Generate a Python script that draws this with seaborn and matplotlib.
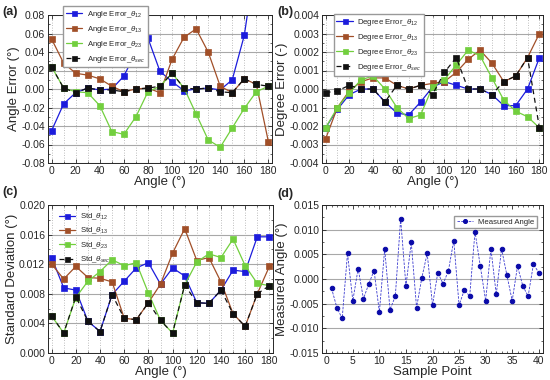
import numpy as np
import seaborn as sns
import matplotlib.pyplot as plt
from matplotlib.ticker import MultipleLocator

angles = list(range(0, 181, 10))

# (a) angle error (deg)
err_a12 = [-0.045, -0.016, -0.004, 0.001, -0.001, 0.000, 0.014, 0.040, 0.055, 0.019,
           0.008, -0.002, 0.000, 0.001, -0.001, 0.010, 0.058, 0.146, 0.200]
err_a13 = [0.054, 0.028, 0.017, 0.015, 0.011, 0.003, -0.003, 0.000, 0.001, -0.004,
           0.032, 0.056, 0.065, 0.040, 0.003, -0.004, 0.011, 0.005, -0.057]
err_a23 = [0.024, 0.001, -0.003, -0.004, -0.018, -0.046, -0.049, -0.030, -0.003, 0.003,
           0.017, 0.001, -0.027, -0.055, -0.063, -0.042, -0.021, -0.003, 0.003]
err_asec = [0.024, 0.001, -0.004, 0.001, -0.001, -0.001, -0.003, 0.000, 0.001, 0.003,
            0.017, 0.001, 0.000, 0.001, -0.003, -0.004, 0.011, 0.005, 0.003]

# (b) degree error (-)
deg_12 = [-0.0021, -0.0011, -0.0003, 0.0000, 0.0000, -0.0007, -0.0013, -0.0014, -0.0007, 0.0001,
          0.0004, 0.0002, 0.0000, 0.0000, -0.0003, -0.0009, -0.0009, 0.0000, 0.0017]
deg_13 = [-0.0027, -0.0010, -0.0001, 0.0004, 0.0006, 0.0006, 0.0002, 0.0000, 0.0002, 0.0003,
          0.0004, 0.0009, 0.0016, 0.0021, 0.0014, 0.0004, 0.0007, 0.0017, 0.0030]
deg_23 = [-0.0021, -0.0010, -0.0002, 0.0005, 0.0007, 0.0000, -0.0010, -0.0016, -0.0014, 0.0001,
          0.0005, 0.0013, 0.0021, 0.0018, 0.0006, -0.0006, -0.0012, -0.0015, -0.0021]
deg_sec = [-0.0002, -0.0001, 0.0002, 0.0000, 0.0000, -0.0007, 0.0002, 0.0000, 0.0002, -0.0003,
           0.0009, 0.0017, 0.0000, 0.0000, -0.0003, 0.0004, 0.0007, 0.0017, -0.0021]

# (c) standard deviation (deg)
std_12 = [0.0129, 0.0088, 0.0085, 0.0043, 0.0029, 0.0079, 0.0097, 0.0115, 0.0122, 0.0093,
          0.0115, 0.0104, 0.0068, 0.0067, 0.0085, 0.0112, 0.0110, 0.0157, 0.0157]
std_13 = [0.0120, 0.0100, 0.0117, 0.0102, 0.0101, 0.0096, 0.0047, 0.0045, 0.0068, 0.0093,
          0.0135, 0.0168, 0.0125, 0.0129, 0.0096, 0.0053, 0.0036, 0.0080, 0.0117]
std_23 = [0.0050, 0.0027, 0.0075, 0.0097, 0.0110, 0.0126, 0.0118, 0.0122, 0.0081, 0.0044,
          0.0027, 0.0092, 0.0123, 0.0134, 0.0129, 0.0154, 0.0118, 0.0094, 0.0091]
std_sec = [0.0050, 0.0027, 0.0076, 0.0043, 0.0029, 0.0079, 0.0047, 0.0045, 0.0068, 0.0044,
           0.0027, 0.0092, 0.0068, 0.0067, 0.0085, 0.0053, 0.0036, 0.0080, 0.0091]

# (d) repeated measurement
samples = list(range(1, 41))
measured = [-0.0019, -0.0058, -0.0080, 0.0052, -0.0044, 0.0021, -0.0040, -0.0010, 0.0017, -0.0067,
            0.0061, -0.0062, -0.0035, 0.0122, -0.0014, 0.0074, -0.0058, 0.0003, 0.0052, -0.0053,
            0.0013, -0.0010, 0.0017, 0.0078, -0.0053, -0.0022, -0.0035, 0.0096, 0.0026, -0.0044,
            0.0061, -0.0031, 0.0061, 0.0008, -0.0044, 0.0026, -0.0014, -0.0035, 0.0030, 0.0013]

BLUE, BROWN, GREEN, BLACK = "#1c1cdc", "#a14f28", "#72cf3e", "#111111"

sns.set_theme(style="ticks")
plt.rcParams["font.family"] = ["Liberation Sans", "DejaVu Sans"]
plt.rcParams["mathtext.fontset"] = "custom"
plt.rcParams["mathtext.it"] = "Liberation Sans:italic"
plt.rcParams["mathtext.rm"] = "Liberation Sans"

fig = plt.figure(figsize=(5.5, 3.8), dpi=100)
W, H = 550, 380


def add_ax(l, t, r, b):
    return fig.add_axes([l / W, 1 - b / H, (r - l) / W, (b - t) / H])


def style_ax(ax, ymaj, ymin, ylim, xlim, xmaj, xmin, vgrid=True):
    ax.set_xlim(*xlim)
    ax.set_ylim(*ylim)
    ax.xaxis.set_major_locator(MultipleLocator(xmaj))
    ax.xaxis.set_minor_locator(MultipleLocator(xmin))
    ax.yaxis.set_major_locator(MultipleLocator(ymaj))
    ax.yaxis.set_minor_locator(MultipleLocator(ymin))
    ax.tick_params(which="both", direction="in", labelsize=7.5, pad=2,
                   top=True, right=True)
    ax.tick_params(which="major", length=3, width=0.6)
    ax.tick_params(which="minor", length=1.5, width=0.5)
    ax.grid(which="major", axis="y", color="#a8a8a8", lw=0.8, ls="-")
    if vgrid:
        ax.grid(which="both", axis="x", color="#a8a8a8", lw=0.6, ls=(0, (1, 2)))
    ax.set_axisbelow(True)
    for s in ax.spines.values():
        s.set_linewidth(0.7)


def draw_series(ax, series, labels):
    colors = [BLUE, BROWN, GREEN, BLACK]
    styles = ["-", "-", "-", (0, (4, 3))]
    for vals, lab, c, ls in zip(series, labels, colors, styles):
        sns.lineplot(x=angles, y=vals, ax=ax, color=c, lw=0.9, linestyle=ls,
                     marker="s", markersize=4, markeredgecolor=c,
                     markeredgewidth=0.5, label=lab)


def small_legend(ax, frame=True, **kw):
    return ax.legend(fontsize=5.6, frameon=frame, framealpha=1, edgecolor="#999999",
                     fancybox=False, handlelength=2.1, handletextpad=0.6,
                     borderpad=0.35, labelspacing=0.5, markerscale=0.9, **kw)


sub = [r"$\theta_{12}$", r"$\theta_{13}$", r"$\theta_{23}$", r"$\theta_{sec}$"]

# (a)
ax_a = add_ax(48, 15, 272, 163)
draw_series(ax_a, [err_a12, err_a13, err_a23, err_asec],
            ["Angle Error_" + s for s in sub])
style_ax(ax_a, 0.02, 0.01, (-0.08, 0.08), (-3, 183), 20, 10)
ax_a.yaxis.set_major_formatter(plt.FuncFormatter(lambda v, p: f"{v:.2f}"))
ax_a.set_xlabel("Angle (°)", fontsize=9.5, labelpad=0)
ax_a.set_ylabel("Angle Error (°)", fontsize=9.5, labelpad=1)
small_legend(ax_a, loc="upper left", bbox_to_anchor=(0.05, 1.085))

# (b)
ax_b = add_ax(322, 15, 543, 163)
draw_series(ax_b, [deg_12, deg_13, deg_23, deg_sec],
            ["Degree Error_" + s for s in sub])
style_ax(ax_b, 0.001, 0.0005, (-0.004, 0.004), (-3, 183), 20, 10)
ax_b.yaxis.set_major_formatter(plt.FuncFormatter(lambda v, p: f"{v:.3f}"))
ax_b.set_xlabel("Angle (°)", fontsize=9.5, labelpad=0)
ax_b.set_ylabel("Degree Error (-)", fontsize=9.5, labelpad=1)
small_legend(ax_b, loc="upper left", bbox_to_anchor=(0.035, 1.03))

# (c)
ax_c = add_ax(48, 205, 273, 353)
draw_series(ax_c, [std_12, std_13, std_23, std_sec],
            ["Std_" + s for s in sub])
style_ax(ax_c, 0.004, 0.002, (0, 0.02), (-3, 183), 20, 10)
ax_c.yaxis.set_major_formatter(plt.FuncFormatter(lambda v, p: f"{v:.3f}"))
ax_c.set_xlabel("Angle (°)", fontsize=9.5, labelpad=0)
ax_c.set_ylabel("Standard Deviation (°)", fontsize=9.5, labelpad=1)
small_legend(ax_c, frame=False, loc="upper left", bbox_to_anchor=(0.02, 1.0))

# (d)
ax_d = add_ax(322, 205, 543, 353)
sns.lineplot(x=samples, y=measured, ax=ax_d, color="#3a3ad0", lw=0.6,
             linestyle=(0, (3, 1.5)), marker="o", markersize=3.2,
             markerfacecolor="#0a0aa8", markeredgecolor="#0a0aa8",
             label="Measured Angle")
style_ax(ax_d, 0.005, 0.0025, (-0.015, 0.015), (-0.8, 40.8), 5, 1, vgrid=False)
ax_d.yaxis.set_major_formatter(plt.FuncFormatter(lambda v, p: f"{v:.3f}"))
ax_d.set_xlabel("Sample Point", fontsize=9.5, labelpad=0)
ax_d.set_ylabel("Measured Angle (°)", fontsize=9.5, labelpad=1)
small_legend(ax_d, loc="upper right", bbox_to_anchor=(0.99, 0.955))

for lab, x, y in [("(a)", 2, 12), ("(b)", 277, 12), ("(c)", 2, 192), ("(d)", 277, 194)]:
    fig.text(x / W, 1 - y / H, lab, fontsize=9, fontweight="bold", va="center")

fig.savefig("out.png", dpi=100)
